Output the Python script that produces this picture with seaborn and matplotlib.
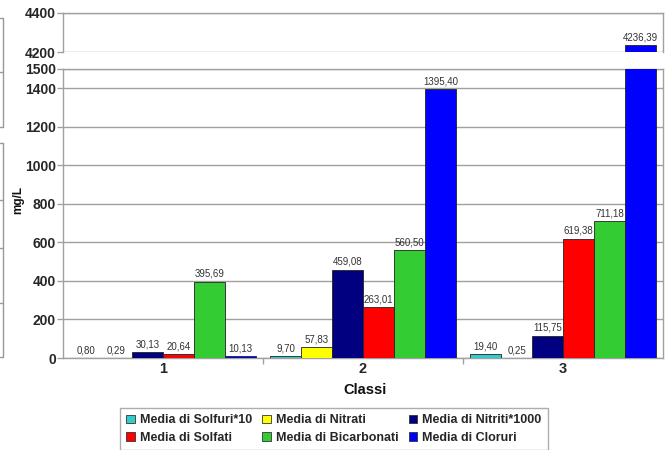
import matplotlib
matplotlib.use("Agg")
import matplotlib.pyplot as plt
from matplotlib.lines import Line2D
from matplotlib.patches import Patch
import pandas as pd
import seaborn as sns

# Data: mean concentration (mg/L) per class
classes = ["1", "2", "3"]
series = ["Media di Solfuri*10", "Media di Nitrati", "Media di Nitriti*1000",
          "Media di Solfati", "Media di Bicarbonati", "Media di Cloruri"]
solfuri_x10 = [0.80, 9.70, 19.40]
nitrati = [0.29, 57.83, 0.25]
nitriti_x1000 = [30.13, 459.08, 115.75]
solfati = [20.64, 263.01, 619.38]
bicarbonati = [395.69, 560.50, 711.18]
cloruri = [10.13, 1395.40, 4236.39]
colors = ["#33CCCC", "#FFFF00", "#000080", "#FF0000", "#33CC33", "#0000FF"]

values = [solfuri_x10, nitrati, nitriti_x1000, solfati, bicarbonati, cloruri]
rows = []
for name, vals in zip(series, values):
    for c, v in zip(classes, vals):
        rows.append({"Classe": c, "Serie": name, "mg/L": v})
df = pd.DataFrame(rows)

sns.set_theme(style="white")
plt.rcParams["font.family"] = ["Liberation Sans", "DejaVu Sans"]

W, H = 671, 450
fig = plt.figure(figsize=(W / 100, H / 100), dpi=100)
fig.patch.set_facecolor("white")

left, right = 63, 663
ax_lo = fig.add_axes([left / W, (H - 358) / H, (right - left) / W, (358 - 69) / H])
ax_hi = fig.add_axes([left / W, (H - 52) / H, (right - left) / W, (52 - 13) / H])

grid_c = "#a0a0a0"

def fmt(v):
    return f"{v:.2f}".replace(".", ",")

for ax, (lo, hi) in ((ax_lo, (0, 1500)), (ax_hi, (4200, 4400))):
    sns.barplot(data=df, x="Classe", y="mg/L", hue="Serie", order=classes,
                hue_order=series, palette=colors, saturation=1, width=0.93,
                gap=0, errorbar=None, edgecolor="#222222", linewidth=0.6,
                legend=False, ax=ax, zorder=3)
    ax.set_ylim(lo, hi)
    ax.set_xlim(-0.5, 2.5)
    ax.set_xlabel("")
    ax.set_ylabel("")
    ax.set_facecolor("white")
    ax.grid(axis="y", color=grid_c, linewidth=1.0, zorder=0)
    ax.set_axisbelow(True)
    for s in ax.spines.values():
        s.set_color(grid_c)
        s.set_linewidth(1.0)
    ax.tick_params(axis="y", which="both", left=True, length=4, width=1,
                   color=grid_c, labelsize=10, pad=1)
    for cont in ax.containers:
        labels = [fmt(b.get_height()) if lo <= b.get_height() <= hi else ""
                  for b in cont]
        ax.bar_label(cont, labels=labels, padding=2, fontsize=7, color="#333333")

ax_lo.set_yticks([0, 200, 400, 600, 800, 1000, 1200, 1400, 1500])
ax_lo.set_yticklabels(["0", "200", "400", "600", "800", "1000", "1200", "1400", "1500"],
                      fontweight="bold", fontsize=10)
ax_lo.set_xticks([0, 1, 2])
ax_lo.set_xticklabels(classes, fontweight="bold", fontsize=10.5)
ax_lo.set_xticks([0.5, 1.5], minor=True)
ax_lo.tick_params(axis="x", which="major", bottom=False, length=0, pad=3)
ax_lo.tick_params(axis="x", which="minor", bottom=True, length=4, color=grid_c)

ax_hi.set_yticks([4200, 4400])
ax_hi.set_yticklabels(["4200", "4400"], fontweight="bold", fontsize=10)
ax_hi.set_xticks([])
ax_hi.spines["bottom"].set_visible(False)

fig.text(365 / W, 1 - 390 / H, "Classi", ha="center", va="center",
         fontsize=10.5, fontweight="bold", color="#111111")
fig.text(18 / W, 1 - 200 / H, "mg/L", ha="center", va="center", rotation=90,
         fontsize=8.5, fontweight="bold", color="#111111")

# Legend: two rows of three entries, filled row by row
handles = [Patch(facecolor=c, edgecolor="#333333", linewidth=0.6) for c in colors]
order = [0, 3, 1, 4, 2, 5]
leg = fig.legend([handles[i] for i in order], [series[i] for i in order],
                 ncol=3, loc="upper left", bbox_to_anchor=(120 / W, 1 - 408 / H),
                 frameon=True, fancybox=False, fontsize=9, handlelength=0.7,
                 handleheight=0.7, handletextpad=0.4, columnspacing=0.8,
                 labelspacing=0.45, borderpad=0.5, borderaxespad=0)
leg.get_frame().set_edgecolor("#999999")
leg.get_frame().set_linewidth(1.0)
for t in leg.get_texts():
    t.set_fontweight("bold")

# Partial frame at the left border
lc = "#999999"
x0 = 3 / W
for y1, y2, ticks in ((18, 127, (18, 72, 127)), (143, 357, (143, 200, 248, 303, 357))):
    fig.add_artist(Line2D([x0, x0], [1 - y1 / H, 1 - y2 / H], color=lc, linewidth=1))
    for ty in ticks:
        fig.add_artist(Line2D([0, x0], [1 - ty / H, 1 - ty / H], color=lc, linewidth=1))

fig.savefig("out.png", dpi=100, facecolor="white")
